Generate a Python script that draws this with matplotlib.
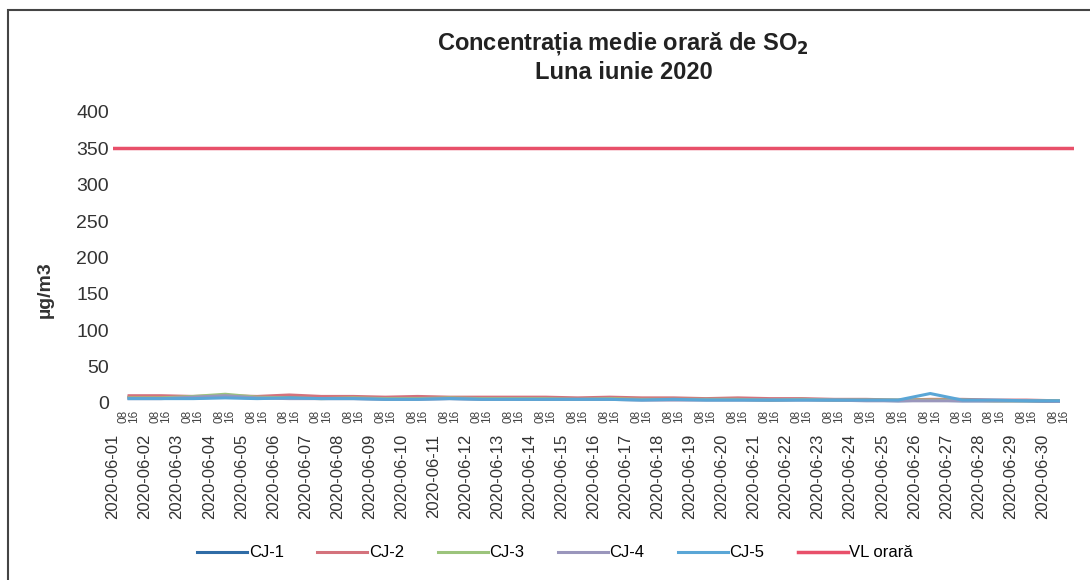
import matplotlib
matplotlib.use("Agg")
import matplotlib.pyplot as plt
import numpy as np
from matplotlib.patches import Rectangle

plt.rcParams['font.family'] = ['Liberation Sans', 'DejaVu Sans']

# zilele lunii iunie 2020
zile = ["2020-06-%02d" % d for d in range(1, 31)]

# valori medii zilnice (ug/m3)
cj1 = [8, 8, 7, 8, 7, 8, 7, 7, 6, 6, 7, 6, 6, 5, 6, 6, 5, 5, 5, 5, 4, 5, 4, 4, 3, 4, 3, 3, 3, 2]
cj2 = [10, 10, 9, 10, 9, 11, 9, 9, 8, 9, 8, 8, 8, 8, 7, 8, 7, 7, 6, 7, 6, 6, 5, 5, 4, 5, 5, 4, 4, 3]
cj3 = [7, 7, 9, 12, 8, 7, 6, 7, 6, 6, 7, 6, 6, 6, 5, 6, 5, 5, 5, 5, 4, 5, 4, 4, 4, 4, 4, 3, 3, 3]
cj4 = [6, 6, 8, 10, 7, 6, 6, 6, 5, 5, 6, 5, 5, 5, 5, 5, 4, 4, 4, 4, 4, 4, 4, 3, 3, 3, 3, 3, 3, 2]
cj5 = [6, 6, 6, 7, 6, 7, 6, 6, 5, 5, 6, 5, 5, 5, 5, 5, 4, 5, 4, 4, 4, 4, 4, 4, 4, 13, 4, 4, 3, 3]
vl_orara = 350

serii = [
    ("CJ-1", cj1, "#2f6ca6"),
    ("CJ-2", cj2, "#d4727c"),
    ("CJ-3", cj3, "#9cc47c"),
    ("CJ-4", cj4, "#9a96bc"),
    ("CJ-5", cj5, "#5aa6d6"),
]

ore = np.arange(len(zile)) * 24 + 12  # mijlocul fiecarei zile, in ore

fig = plt.figure(figsize=(10.9, 5.8), dpi=100)
ax = fig.add_axes([0.1037, 0.3052, 0.882, 0.502])

for nume, val, cul in serii:
    ax.plot(ore, val, color=cul, linewidth=2.2, label=nume)
ax.plot([0, 720], [vl_orara, vl_orara], color="#e8506a", linewidth=2.5, label="VL orară")

ax.set_xlim(0, 720)
ax.set_ylim(0, 400)
ax.set_yticks(np.arange(0, 401, 50))
ax.tick_params(axis="y", length=0, labelsize=14, labelcolor="#333333", pad=3)

# etichete principale: datele, etichete secundare: orele
ore_min = [h for h in range(0, 720, 8) if h % 24]
ax.set_xticks(np.arange(len(zile)) * 24)
ax.set_xticklabels(zile, rotation=90, fontsize=12, color="#333333")
ax.set_xticks(ore_min, minor=True)
ax.set_xticklabels(["%02d" % (h % 24) for h in ore_min],
                   minor=True, rotation=90, fontsize=8.5, color="#444444")
ax.tick_params(axis="x", which="major", length=0, pad=22)
ax.tick_params(axis="x", which="minor", length=0, pad=5)

for s in ax.spines.values():
    s.set_visible(False)

ax.set_ylabel("µg/m3", fontsize=14, fontweight="bold", color="#333333")
ax.yaxis.set_label_coords(-0.062, 0.39)

fig.text(0.572, 0.925, "Concentrația medie orară de SO$_\\mathbf{2}$", ha="center", va="center",
         fontsize=17, fontweight="bold", color="#222222")
fig.text(0.572, 0.875, "Luna iunie 2020", ha="center", va="center",
         fontsize=17, fontweight="bold", color="#222222")

ax.legend(loc="center", bbox_to_anchor=(0.46, -0.515), ncol=6, frameon=False,
          fontsize=12, handlelength=3.0, handletextpad=0.1, columnspacing=2.0)

# chenarul graficului
fig.patches.append(Rectangle((8 / 1090, -0.05), 1.2, 1.05 - 10 / 580,
                             transform=fig.transFigure, fill=False,
                             edgecolor="#444444", linewidth=1.5))

fig.savefig("out.png", dpi=100)
